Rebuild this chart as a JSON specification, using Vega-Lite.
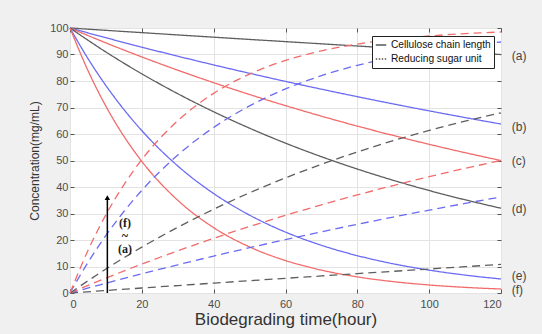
{
  "$schema": "https://vega.github.io/schema/vega-lite/v6.json",
  "width": 431,
  "height": 265,
  "autosize": {"type": "none"},
  "padding": {"left": 70, "top": 28, "right": 41, "bottom": 41},
  "background": "#f0f0f0",
  "view": {"fill": "white", "stroke": "#555555", "strokeWidth": 1},
  "config": {
    "font": "Liberation Sans",
    "axis": {
      "gridColor": "#e3e3e3",
      "gridWidth": 1,
      "domain": false,
      "tickColor": "#555555",
      "tickSize": -4,
      "labelColor": "#4d4d4d",
      "labelFont": "Liberation Sans",
      "labelFontSize": 11,
      "titleFont": "Liberation Sans",
      "titleFontWeight": "normal",
      "titleColor": "#333333"
    }
  },
  "datasets": {
    "curves": [
      {"t": 0, "curve": "a", "chain": 100, "sugar": 0},
      {"t": 10, "curve": "a", "chain": 99.12, "sugar": 0.95},
      {"t": 20, "curve": "a", "chain": 98.25, "sugar": 1.88},
      {"t": 30, "curve": "a", "chain": 97.39, "sugar": 2.81},
      {"t": 40, "curve": "a", "chain": 96.54, "sugar": 3.73},
      {"t": 50, "curve": "a", "chain": 95.69, "sugar": 4.64},
      {"t": 60, "curve": "a", "chain": 94.86, "sugar": 5.54},
      {"t": 70, "curve": "a", "chain": 94.03, "sugar": 6.43},
      {"t": 80, "curve": "a", "chain": 93.2, "sugar": 7.32},
      {"t": 90, "curve": "a", "chain": 92.38, "sugar": 8.19},
      {"t": 100, "curve": "a", "chain": 91.57, "sugar": 9.06},
      {"t": 110, "curve": "a", "chain": 90.77, "sugar": 9.93},
      {"t": 120, "curve": "a", "chain": 89.98, "sugar": 10.78},

      {"t": 0, "curve": "b", "chain": 100, "sugar": 0},
      {"t": 10, "curve": "b", "chain": 96.32, "sugar": 3.68},
      {"t": 20, "curve": "b", "chain": 92.77, "sugar": 7.23},
      {"t": 30, "curve": "b", "chain": 89.36, "sugar": 10.64},
      {"t": 40, "curve": "b", "chain": 86.07, "sugar": 13.93},
      {"t": 50, "curve": "b", "chain": 82.9, "sugar": 17.1},
      {"t": 60, "curve": "b", "chain": 79.85, "sugar": 20.15},
      {"t": 70, "curve": "b", "chain": 76.91, "sugar": 23.09},
      {"t": 80, "curve": "b", "chain": 74.08, "sugar": 25.92},
      {"t": 90, "curve": "b", "chain": 71.35, "sugar": 28.65},
      {"t": 100, "curve": "b", "chain": 68.73, "sugar": 31.27},
      {"t": 110, "curve": "b", "chain": 66.2, "sugar": 33.8},
      {"t": 120, "curve": "b", "chain": 63.76, "sugar": 36.24},

      {"t": 0, "curve": "c", "chain": 100, "sugar": 0},
      {"t": 10, "curve": "c", "chain": 94.38, "sugar": 5.62},
      {"t": 20, "curve": "c", "chain": 89.08, "sugar": 10.92},
      {"t": 30, "curve": "c", "chain": 84.08, "sugar": 15.92},
      {"t": 40, "curve": "c", "chain": 79.36, "sugar": 20.64},
      {"t": 50, "curve": "c", "chain": 74.9, "sugar": 25.1},
      {"t": 60, "curve": "c", "chain": 70.7, "sugar": 29.3},
      {"t": 70, "curve": "c", "chain": 66.73, "sugar": 33.27},
      {"t": 80, "curve": "c", "chain": 62.98, "sugar": 37.02},
      {"t": 90, "curve": "c", "chain": 59.44, "sugar": 40.56},
      {"t": 100, "curve": "c", "chain": 56.1, "sugar": 43.9},
      {"t": 110, "curve": "c", "chain": 52.95, "sugar": 47.05},
      {"t": 120, "curve": "c", "chain": 49.98, "sugar": 50.02},

      {"t": 0, "curve": "d", "chain": 100, "sugar": 0},
      {"t": 10, "curve": "d", "chain": 90.94, "sugar": 9.06},
      {"t": 20, "curve": "d", "chain": 82.7, "sugar": 17.3},
      {"t": 30, "curve": "d", "chain": 75.21, "sugar": 24.79},
      {"t": 40, "curve": "d", "chain": 68.39, "sugar": 31.61},
      {"t": 50, "curve": "d", "chain": 62.19, "sugar": 37.81},
      {"t": 60, "curve": "d", "chain": 56.55, "sugar": 43.45},
      {"t": 70, "curve": "d", "chain": 51.43, "sugar": 48.57},
      {"t": 80, "curve": "d", "chain": 46.77, "sugar": 53.23},
      {"t": 90, "curve": "d", "chain": 42.53, "sugar": 57.47},
      {"t": 100, "curve": "d", "chain": 38.67, "sugar": 61.33},
      {"t": 110, "curve": "d", "chain": 35.17, "sugar": 64.83},
      {"t": 120, "curve": "d", "chain": 31.98, "sugar": 68.02},

      {"t": 0, "curve": "e", "chain": 100, "sugar": 0},
      {"t": 5, "curve": "e", "chain": 88.47, "sugar": 11.53},
      {"t": 10, "curve": "e", "chain": 78.27, "sugar": 21.73},
      {"t": 15, "curve": "e", "chain": 69.25, "sugar": 30.75},
      {"t": 20, "curve": "e", "chain": 61.26, "sugar": 38.74},
      {"t": 30, "curve": "e", "chain": 47.95, "sugar": 52.05},
      {"t": 40, "curve": "e", "chain": 37.53, "sugar": 62.47},
      {"t": 50, "curve": "e", "chain": 29.38, "sugar": 70.62},
      {"t": 60, "curve": "e", "chain": 22.99, "sugar": 77.01},
      {"t": 70, "curve": "e", "chain": 18.0, "sugar": 82.0},
      {"t": 80, "curve": "e", "chain": 14.09, "sugar": 85.91},
      {"t": 90, "curve": "e", "chain": 11.02, "sugar": 88.98},
      {"t": 100, "curve": "e", "chain": 8.63, "sugar": 91.37},
      {"t": 110, "curve": "e", "chain": 6.75, "sugar": 93.25},
      {"t": 120, "curve": "e", "chain": 5.29, "sugar": 94.71},

      {"t": 0, "curve": "f", "chain": 100, "sugar": 0},
      {"t": 5, "curve": "f", "chain": 83.95, "sugar": 16.05},
      {"t": 10, "curve": "f", "chain": 70.47, "sugar": 29.53},
      {"t": 15, "curve": "f", "chain": 59.16, "sugar": 40.84},
      {"t": 20, "curve": "f", "chain": 49.66, "sugar": 50.34},
      {"t": 30, "curve": "f", "chain": 34.99, "sugar": 65.01},
      {"t": 40, "curve": "f", "chain": 24.66, "sugar": 75.34},
      {"t": 50, "curve": "f", "chain": 17.38, "sugar": 82.62},
      {"t": 60, "curve": "f", "chain": 12.25, "sugar": 87.75},
      {"t": 70, "curve": "f", "chain": 8.63, "sugar": 91.37},
      {"t": 80, "curve": "f", "chain": 6.08, "sugar": 93.92},
      {"t": 90, "curve": "f", "chain": 4.29, "sugar": 95.71},
      {"t": 100, "curve": "f", "chain": 3.02, "sugar": 96.98},
      {"t": 110, "curve": "f", "chain": 2.13, "sugar": 97.87},
      {"t": 120, "curve": "f", "chain": 1.5, "sugar": 98.5}
    ],
    "arrow": [
      {"t": 10.4, "from": 0, "to": 36}
    ],
    "note": [
      {"t": 15.3, "y": 26.4, "text": "(f)"},
      {"t": 15.3, "y": 21.5, "text": "~"},
      {"t": 15.3, "y": 16.5, "text": "(a)"}
    ],
    "ends": [
      {"t": 123, "y": 89.4, "text": "(a)"},
      {"t": 123, "y": 62.8, "text": "(b)"},
      {"t": 123, "y": 49.8, "text": "(c)"},
      {"t": 123, "y": 31.7, "text": "(d)"},
      {"t": 123, "y": 6.4, "text": "(e)"},
      {"t": 123, "y": 1.1, "text": "(f)"}
    ]
  },
  "layer": [
    {
      "data": {"name": "curves"},
      "mark": {"type": "line", "interpolate": "monotone", "strokeWidth": 1.3},
      "encoding": {
        "x": {
          "field": "t", "type": "quantitative",
          "scale": {"domain": [0, 120], "nice": false},
          "axis": {
            "values": [0, 20, 40, 60, 80, 100, 120],
            "grid": true,
            "labelPadding": 9,
            "title": "Biodegrading time(hour)",
            "titleFontSize": 17,
            "titlePadding": 2
          }
        },
        "y": {
          "field": "chain", "type": "quantitative",
          "scale": {"domain": [0, 100], "nice": false},
          "axis": {
            "values": [0, 10, 20, 30, 40, 50, 60, 70, 80, 90, 100],
            "grid": true,
            "labelPadding": 6,
            "title": "Concentration(mg/mL)",
            "titleFontSize": 12,
            "titlePadding": 8
          }
        },
        "color": {
          "field": "curve", "type": "nominal",
          "scale": {
            "domain": ["a", "b", "c", "d", "e", "f"],
            "range": ["#5e5e5e", "#6b6bf2", "#f26b6b", "#5e5e5e", "#6b6bf2", "#f26b6b"]
          },
          "legend": null
        },
        "strokeDash": {
          "datum": "Cellulose chain length", "type": "nominal",
          "scale": {
            "domain": ["Cellulose chain length", "Reducing sugar unit"],
            "range": [[1, 0], [1.5, 1.5]]
          },
          "legend": {
            "title": null,
            "orient": "none",
            "legendX": 302,
            "legendY": 8,
            "fillColor": "white",
            "strokeColor": "#222222",
            "padding": 3,
            "rowPadding": 2,
            "symbolType": "stroke",
            "symbolSize": 110,
            "symbolStrokeWidth": 1.2,
            "symbolStrokeColor": "black",
            "labelFontSize": 10.2,
            "labelColor": "#111111",
            "labelOffset": 4,
            "labelLimit": 200,
            "encode": {
              "symbols": {
                "update": {"stroke": {"value": "black"}}
              }
            }
          }
        },
        "detail": {"field": "curve"}
      }
    },
    {
      "data": {"name": "curves"},
      "mark": {"type": "line", "interpolate": "monotone", "strokeWidth": 1.3, "strokeDash": [8, 5]},
      "encoding": {
        "x": {"field": "t", "type": "quantitative", "scale": {"domain": [0, 120], "nice": false}, "axis": null},
        "y": {"field": "sugar", "type": "quantitative", "scale": {"domain": [0, 100], "nice": false}, "axis": null},
        "color": {"field": "curve", "type": "nominal", "legend": null},
        "detail": {"field": "curve"}
      }
    },
    {
      "data": {"name": "arrow"},
      "mark": {"type": "rule", "color": "black", "strokeWidth": 1.5},
      "encoding": {
        "x": {"field": "t", "type": "quantitative", "scale": {"domain": [0, 120], "nice": false}, "axis": null},
        "y": {"field": "from", "type": "quantitative", "scale": {"domain": [0, 100], "nice": false}, "axis": null},
        "y2": {"field": "to"}
      }
    },
    {
      "data": {"name": "arrow"},
      "mark": {"type": "point", "shape": "triangle-up", "filled": true, "color": "black", "opacity": 1, "size": 30},
      "encoding": {
        "x": {"field": "t", "type": "quantitative", "scale": {"domain": [0, 120], "nice": false}, "axis": null},
        "y": {"field": "to", "type": "quantitative", "scale": {"domain": [0, 100], "nice": false}, "axis": null}
      }
    },
    {
      "data": {"name": "note"},
      "mark": {"type": "text", "font": "Liberation Serif", "fontSize": 12, "fontWeight": "bold", "color": "#1a1a1a", "align": "center", "baseline": "middle"},
      "encoding": {
        "x": {"field": "t", "type": "quantitative", "scale": {"domain": [0, 120], "nice": false}, "axis": null},
        "y": {"field": "y", "type": "quantitative", "scale": {"domain": [0, 100], "nice": false}, "axis": null},
        "text": {"field": "text"}
      }
    },
    {
      "data": {"name": "ends"},
      "mark": {"type": "text", "fontSize": 12, "color": "#444444", "align": "left", "baseline": "middle"},
      "encoding": {
        "x": {
          "field": "t", "type": "quantitative", "scale": {"domain": [0, 120], "nice": false},
          "axis": {"orient": "top", "values": [0, 20, 40, 60, 80, 100, 120], "labels": false, "grid": false, "title": null}
        },
        "y": {
          "field": "y", "type": "quantitative", "scale": {"domain": [0, 100], "nice": false},
          "axis": {"orient": "right", "values": [0, 10, 20, 30, 40, 50, 60, 70, 80, 90, 100], "labels": false, "grid": false, "title": null}
        },
        "text": {"field": "text"}
      }
    }
  ],
  "resolve": {"axis": {"x": "independent", "y": "independent"}}
}
